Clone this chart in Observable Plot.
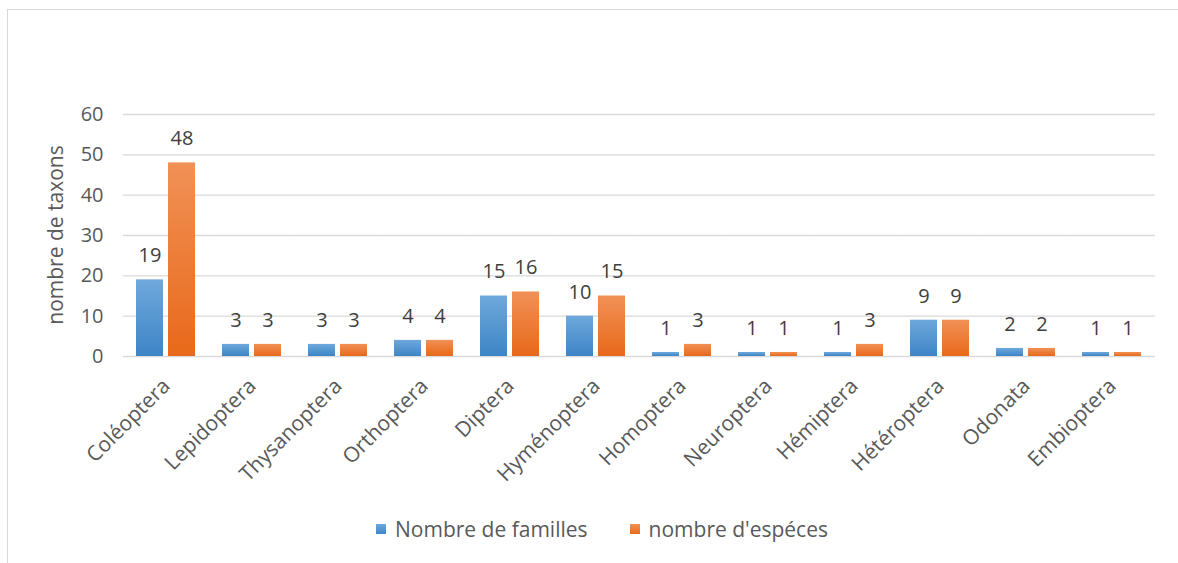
<!DOCTYPE html>
<html>
<head>
<meta charset="utf-8">
<script src="https://cdn.jsdelivr.net/npm/d3@7"></script>
<script src="https://cdn.jsdelivr.net/npm/@observablehq/plot@0.6"></script>
<style>
  html, body { margin: 0; padding: 0; background: #fff; width: 1178px; height: 563px; overflow: hidden; }
  #frame { position: absolute; left: 7px; top: 9px; width: 1178px; height: 600px; border: 1px solid #d9d9d9; box-sizing: border-box; }
  #chart { position: absolute; left: 0; top: 0; }
  #legend { position: absolute; left: 0; top: 515px; width: 1178px; display: flex; justify-content: center; gap: 42px; font-family: "Open Sans", sans-serif; font-size: 21px; color: #595959; padding-left: 26px; box-sizing: border-box; }
  .item { display: flex; align-items: center; }
  .sw { width: 10px; height: 10px; margin-right: 9px; }
</style>
</head>
<body>
<div id="frame"></div>
<div id="chart"></div>
<div id="legend"></div>
<script>
const categories = ["Coléoptera","Lepidoptera","Thysanoptera","Orthoptera","Diptera","Hyménoptera","Homoptera","Neuroptera","Hémiptera","Hétéroptera","Odonata","Embioptera"];
const familles = [19, 3, 3, 4, 15, 10, 1, 1, 1, 9, 2, 1];
const especes = [48, 3, 3, 4, 16, 15, 3, 1, 3, 9, 2, 1];
const seriesNames = ["Nombre de familles", "nombre d'espéces"];
const yTicks = [0, 10, 20, 30, 40, 50, 60];

const data = [];
categories.forEach((c, i) => {
  data.push({cat: c, series: seriesNames[0], value: familles[i]});
  data.push({cat: c, series: seriesNames[1], value: especes[i]});
});

const W = 1178, ML = 122, MR = 22;
const step = (W - ML - MR) / (12 - 0.3 + 0.3);
const halfGap = step * 0.15;

const chart = Plot.plot({
  width: W,
  height: 500,
  marginTop: 114,
  marginBottom: 144,
  marginLeft: ML,
  marginRight: MR,
  style: {fontFamily: "'Open Sans', sans-serif", fontSize: "17px", color: "#595959", background: "transparent"},
  fx: {domain: categories, paddingInner: 0.3, paddingOuter: 0.15, label: null},
  x: {domain: seriesNames, paddingInner: 0.15, paddingOuter: 0, axis: null},
  y: {domain: [0, 60], ticks: yTicks, label: null},
  marks: [
    Plot.ruleY(yTicks, {stroke: "#d9d9d9", strokeWidth: 1.3, insetLeft: -halfGap, insetRight: -halfGap}),
    Plot.axisY(yTicks, {tickSize: 0, tickPadding: 33, fontSize: 20, fill: "#595959", label: null}),
    Plot.axisFx({anchor: "bottom", tickRotate: -45, tickSize: 0, tickPadding: 26, dx: 0, fontSize: 21, fill: "#595959", label: null}),
    Plot.barY(data.filter(d => d.series === seriesNames[0]), {fx: "cat", x: "series", y: "value", fill: "url(#gBlue)"}),
    Plot.barY(data.filter(d => d.series === seriesNames[1]), {fx: "cat", x: "series", y: "value", fill: "url(#gOrange)"}),
    Plot.text(data, {fx: "cat", x: "series", y: "value", text: d => String(d.value), dy: -24, fontSize: 20, fill: "#404040"})
  ]
});

const svg = d3.select(chart);
const defs = svg.insert("defs", ":first-child");
const g1 = defs.append("linearGradient").attr("id", "gBlue").attr("x1", 0).attr("y1", 0).attr("x2", 0).attr("y2", 1);
g1.append("stop").attr("offset", "0%").attr("stop-color", "#6fa8dc");
g1.append("stop").attr("offset", "100%").attr("stop-color", "#3d85c6");
const g2 = defs.append("linearGradient").attr("id", "gOrange").attr("x1", 0).attr("y1", 0).attr("x2", 0).attr("y2", 1);
g2.append("stop").attr("offset", "0%").attr("stop-color", "#f19156");
g2.append("stop").attr("offset", "100%").attr("stop-color", "#e8691a");
// y-axis title
svg.append("text")
  .attr("transform", "translate(57,235) rotate(-90)")
  .attr("text-anchor", "middle")
  .attr("dominant-baseline", "middle")
  .attr("font-family", "'Open Sans', sans-serif")
  .attr("font-size", 21)
  .attr("fill", "#595959")
  .text("nombre de taxons");
document.getElementById("chart").appendChild(chart);

const legend = document.getElementById("legend");
[[seriesNames[0], "linear-gradient(#6fa8dc, #3d85c6)"], [seriesNames[1], "linear-gradient(#f19156, #e8691a)"]].forEach(([t, c]) => {
  const it = document.createElement("div");
  it.className = "item";
  const sw = document.createElement("div");
  sw.className = "sw";
  sw.style.background = c;
  it.appendChild(sw);
  it.appendChild(document.createTextNode(t));
  legend.appendChild(it);
});
</script>
</body>
</html>
